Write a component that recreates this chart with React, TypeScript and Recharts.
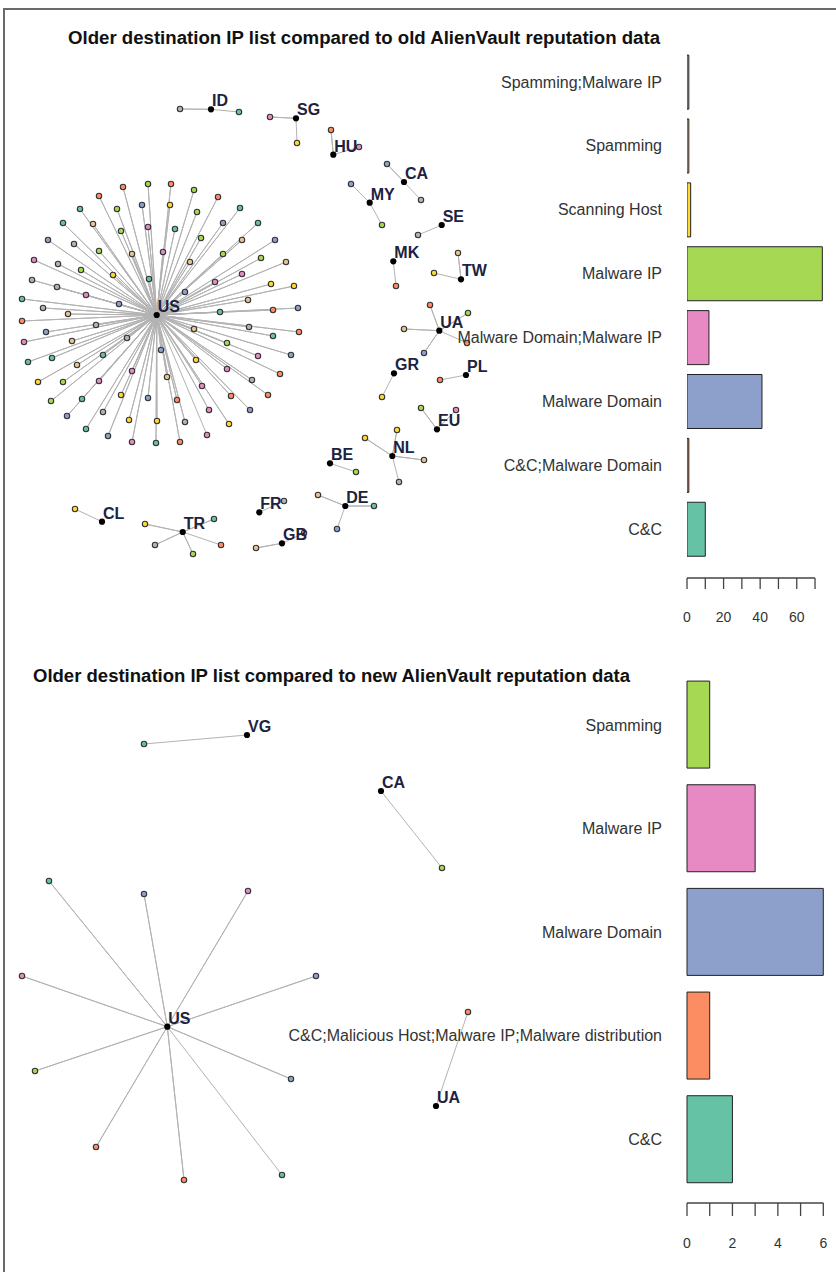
import React from 'react';
import {
  ScatterChart, Scatter, XAxis, YAxis, BarChart, Bar, Cell, ReferenceLine,
} from 'recharts';

// Set2 palette, indexed by reputation category
const SET2 = ['#66C2A5', '#FC8D62', '#8DA0CB', '#E78AC3', '#A6D854', '#FFD92F', '#E5C494', '#B3B3B3'];

// ---- Top panel: older destination IP list vs old AlienVault reputation ----
const oldCategories = ['Spamming;Malware IP', 'Spamming', 'Scanning Host', 'Malware IP', 'Malware Domain;Malware IP', 'Malware Domain', 'C&C;Malware Domain', 'C&C'];
const oldCounts = [1, 1, 2, 74, 12, 41, 1, 10];
const oldColorIdx = [7, 6, 5, 4, 3, 2, 1, 0];
const oldTicks = [0, 10, 20, 30, 40, 50, 60, 70];

// ---- Bottom panel: older destination IP list vs new AlienVault reputation ----
const newCategories = ['Spamming', 'Malware IP', 'Malware Domain', 'C&C;Malicious Host;Malware IP;Malware distribution', 'C&C'];
const newCounts = [1, 3, 6, 1, 2];
const newColorIdx = [4, 3, 2, 1, 0];
const newTicks = [0, 1, 2, 3, 4, 5, 6];

// network layout (layout units), country hubs
const oldHubs = [
  { name: 'US', x: 156.7, y: 315 }, { name: 'ID', x: 211, y: 109.3 }, { name: 'SG', x: 296, y: 118.3 },
  { name: 'HU', x: 333.3, y: 154.7 }, { name: 'CA', x: 404, y: 182 }, { name: 'MY', x: 369.7, y: 202.7 },
  { name: 'SE', x: 441.7, y: 225 }, { name: 'MK', x: 393.3, y: 261.3 }, { name: 'TW', x: 461, y: 279.3 },
  { name: 'UA', x: 439.3, y: 330.7 }, { name: 'GR', x: 394, y: 373.3 }, { name: 'PL', x: 466, y: 375 },
  { name: 'EU', x: 437, y: 429.3 }, { name: 'NL', x: 392.3, y: 456 }, { name: 'BE', x: 330, y: 463.3 },
  { name: 'DE', x: 345.3, y: 506 }, { name: 'FR', x: 259.3, y: 512.3 }, { name: 'GB', x: 282, y: 543.3 },
  { name: 'CL', x: 102, y: 521.7 }, { name: 'TR', x: 182.7, y: 532 },
];

// IP leaves: [country, x, y, category]
const oldUsLeaves: [string, number, number, number][] = [
  [123, 187, 1], [148, 184, 4], [171, 184, 1], [194, 190, 4], [218, 197, 1], [99, 196, 1], [80, 209, 0], [117, 209, 4],
  [142, 205, 2], [170, 205, 5], [197, 212, 4], [240, 208, 0], [63, 223, 0], [93, 224, 6], [121, 231, 4], [148, 227, 3],
  [175, 229, 0], [223, 223, 2], [258, 223, 0], [201, 238, 4], [48, 240, 2], [74, 244, 7], [99, 251, 4], [132, 254, 6],
  [163, 252, 3], [242, 240, 6], [275, 240, 2], [223, 254, 4], [261, 258, 4], [190, 262, 6], [286, 262, 6], [34, 260, 3],
  [58, 264, 7], [81, 270, 4], [113, 275, 5], [149, 279, 0], [215, 282, 3], [242, 274, 3], [271, 284, 5], [294, 286, 5],
  [32, 280, 7], [57, 287, 7], [86, 295, 3], [119, 304, 2], [185, 292, 2], [248, 300, 6], [22, 299, 0], [43, 308, 7],
  [68, 314, 6], [220, 312, 0], [273, 310, 1], [298, 308, 2], [22, 321, 1], [46, 332, 2], [96, 325, 7], [127, 338, 7],
  [194, 329, 6], [249, 327, 7], [273, 336, 0], [299, 332, 1], [24, 342, 3], [72, 341, 6], [161, 350, 2], [227, 343, 4],
  [258, 356, 3], [291, 355, 2], [28, 362, 0], [52, 358, 0], [77, 365, 6], [103, 355, 0], [196, 360, 5], [227, 369, 3],
  [280, 374, 1], [38, 382, 5], [63, 382, 4], [99, 381, 3], [132, 371, 3], [167, 377, 6], [202, 386, 3], [252, 380, 7],
  [51, 401, 4], [82, 399, 0], [121, 395, 5], [148, 398, 2], [177, 400, 1], [231, 396, 1], [268, 395, 1], [67, 416, 2],
  [103, 412, 7], [209, 410, 3], [250, 410, 2], [86, 429, 0], [129, 420, 5], [157, 421, 5], [185, 422, 7], [229, 424, 5],
  [108, 436, 2], [132, 442, 3], [156, 443, 0], [180, 442, 1], [207, 435, 3],
].map(([x, y, c]) => ['US', x, y, c] as [string, number, number, number]);

const oldOtherLeaves: [string, number, number, number][] = [
  ['ID', 180, 109, 7], ['ID', 239, 112, 0],
  ['SG', 270, 117, 3], ['SG', 297, 143, 5],
  ['HU', 331, 130, 1], ['HU', 359, 147, 3],
  ['CA', 387, 164, 2], ['CA', 421, 200, 7],
  ['MY', 351, 184, 2], ['MY', 382, 225, 4],
  ['SE', 418, 235, 7],
  ['MK', 396, 286, 1],
  ['TW', 458, 253, 6], ['TW', 434, 273, 5],
  ['UA', 430, 305, 1], ['UA', 468, 313, 4], ['UA', 404, 329, 6], ['UA', 424, 353, 2], ['UA', 467, 343, 1],
  ['GR', 382, 397, 5],
  ['PL', 440, 380, 1],
  ['EU', 421, 408, 4], ['EU', 456, 410, 3],
  ['NL', 397, 430, 5], ['NL', 365, 438, 5], ['NL', 424, 460, 6], ['NL', 399, 482, 7],
  ['BE', 356, 472, 4],
  ['DE', 318, 495, 6], ['DE', 374, 506, 0], ['DE', 337, 529, 2],
  ['FR', 284, 501, 7],
  ['GB', 256, 548, 6], ['GB', 304, 533, 1],
  ['CL', 75, 509, 5],
  ['TR', 145, 524, 5], ['TR', 214, 519, 0], ['TR', 155, 545, 7], ['TR', 193, 554, 4], ['TR', 221, 545, 1],
];
const oldLeaves = [...oldUsLeaves, ...oldOtherLeaves];

const newHubs = [
  { name: 'US', x: 167.3, y: 1026.7 }, { name: 'VG', x: 247, y: 735 },
  { name: 'CA', x: 381, y: 791 }, { name: 'UA', x: 436, y: 1106 },
];
const newLeaves: [string, number, number, number][] = [
  ['US', 49, 881, 0], ['US', 144, 894, 2], ['US', 248, 891, 3], ['US', 22, 976, 3], ['US', 316, 976, 2],
  ['US', 35, 1071, 4], ['US', 291, 1079, 2], ['US', 96, 1147, 1], ['US', 184, 1180, 1], ['US', 282, 1175, 0],
  ['VG', 144, 744, 0],
  ['CA', 442, 868, 4],
  ['UA', 468, 1012, 1],
];

const SANS = 'Liberation Sans, Arial, sans-serif';

const Empty = () => <g />;

const LeafDot = (props: any) => {
  const c = props.payload ? props.payload.c : props.c;
  return <circle cx={props.cx} cy={props.cy} r={2.7} fill={SET2[c]} stroke="#333" strokeWidth={1.1} />;
};

const HubDot = (props: any) => {
  const name = props.payload ? props.payload.name : props.name;
  return (
    <g>
      <circle cx={props.cx} cy={props.cy} r={3.1} fill="#000" />
      <text x={props.cx + 1} y={props.cy - 3} fontFamily={SANS} fontWeight="bold" fontSize={16} fill="#1c2340">{name}</text>
    </g>
  );
};

function Network({ hubs, leaves, top, height }: { hubs: any[]; leaves: [string, number, number, number][]; top: number; height: number }) {
  const edges = hubs.map((h) => {
    const pts: { x: number; y: number }[] = [];
    leaves.filter((l) => l[0] === h.name).forEach((l) => {
      pts.push({ x: h.x, y: h.y });
      pts.push({ x: l[1], y: l[2] });
    });
    return pts;
  });
  const leafPts = leaves.map((l) => ({ x: l[1], y: l[2], c: l[3] }));
  return (
    <div style={{ position: 'absolute', left: 0, top, width: 836, height }}>
      <ScatterChart width={836} height={height} margin={{ top: 0, right: 0, bottom: 0, left: 0 }}>
        <XAxis type="number" dataKey="x" domain={[0, 836]} hide allowDataOverflow />
        <YAxis type="number" dataKey="y" domain={[top, top + height]} reversed hide allowDataOverflow />
        {edges.map((pts, i) => (
          <Scatter key={'e' + i} data={pts} line={{ stroke: '#b3b3b3', strokeWidth: 1 }} lineType="joint" shape={Empty} isAnimationActive={false} />
        ))}
        <Scatter data={leafPts} shape={LeafDot} isAnimationActive={false} />
        <Scatter data={hubs} shape={HubDot} isAnimationActive={false} />
      </ScatterChart>
    </div>
  );
}

const oldData = oldCategories.map((category, i) => ({ category, count: oldCounts[i] }));
const newData = newCategories.map((category, i) => ({ category, count: newCounts[i] }));

const catTick = { fill: '#333', fontSize: 16, fontFamily: SANS };
const numTick = { fill: '#333', fontSize: 14, fontFamily: SANS };

export default function App() {
  return (
    <div style={{ position: 'absolute', left: 0, top: 0, width: 836, height: 1272, background: '#fff', overflow: 'hidden' }}>
      <div style={{ position: 'absolute', left: 3, top: 8, width: 900, height: 1300, borderLeft: '2px solid #6a6a6a', borderTop: '2px solid #6a6a6a' }} />

      <Network hubs={oldHubs} leaves={oldLeaves} top={0} height={620} />
      <Network hubs={newHubs} leaves={newLeaves} top={620} height={652} />

      <div style={{ position: 'absolute', left: 180, top: 0 }}>
        <BarChart layout="vertical" width={656} height={628} data={oldData} margin={{ top: 50, right: 10, bottom: 0, left: 0 }} barCategoryGap="8%">
          <XAxis type="number" domain={[0, 76]} ticks={oldTicks} interval={0} tickFormatter={(v: number) => (v % 20 === 0 ? String(v) : '')}
            axisLine={false} tickLine={{ stroke: '#444', strokeWidth: 1.3 }} tickSize={11} tickMargin={23} height={50} tick={numTick} allowDataOverflow />
          <YAxis type="category" dataKey="category" width={507} axisLine={false} tickLine={false} tickSize={0} tickMargin={25}
            padding={{ top: 0, bottom: 17 }} tick={catTick} interval={0} />
          <YAxis yAxisId="base" type="category" dataKey="category" hide />
          <ReferenceLine yAxisId="base" segment={[{ x: 0, y: 'C&C' }, { x: 70, y: 'C&C' }]} position="end" stroke="#444" strokeWidth={1.3} ifOverflow="visible" />
          <Bar dataKey="count" stroke="#222" strokeWidth={1} isAnimationActive={false}>
            {oldData.map((d, i) => <Cell key={d.category} fill={SET2[oldColorIdx[i]]} />)}
          </Bar>
        </BarChart>
      </div>

      <div style={{ position: 'absolute', left: 180, top: 620 }}>
        <BarChart layout="vertical" width={656} height={633} data={newData} margin={{ top: 53, right: 12.7, bottom: 0, left: 0 }} barCategoryGap="7.8%">
          <XAxis type="number" domain={[0, 6]} ticks={newTicks} interval={0} tickFormatter={(v: number) => (v % 2 === 0 ? String(v) : '')}
            axisLine={{ stroke: '#444', strokeWidth: 1.3 }} tickLine={{ stroke: '#444', strokeWidth: 1.3 }} tickSize={13} tickMargin={22} height={50} tick={numTick} />
          <YAxis type="category" dataKey="category" width={507} axisLine={false} tickLine={false} tickSize={0} tickMargin={25}
            padding={{ top: 0, bottom: 11.7 }} tick={catTick} interval={0} />
          <Bar dataKey="count" stroke="#222" strokeWidth={1} isAnimationActive={false}>
            {newData.map((d, i) => <Cell key={d.category} fill={SET2[newColorIdx[i]]} />)}
          </Bar>
        </BarChart>
      </div>

      <svg width={836} height={1272} style={{ position: 'absolute', left: 0, top: 0, pointerEvents: 'none' }}>
        <text x={68} y={44} textLength={592} lengthAdjust="spacingAndGlyphs" fontFamily={SANS} fontWeight="bold" fontSize={18} fill="#111">
          Older destination IP list compared to old AlienVault reputation data
        </text>
        <text x={33} y={682} textLength={597} lengthAdjust="spacingAndGlyphs" fontFamily={SANS} fontWeight="bold" fontSize={18} fill="#111">
          Older destination IP list compared to new AlienVault reputation data
        </text>
      </svg>
    </div>
  );
}
